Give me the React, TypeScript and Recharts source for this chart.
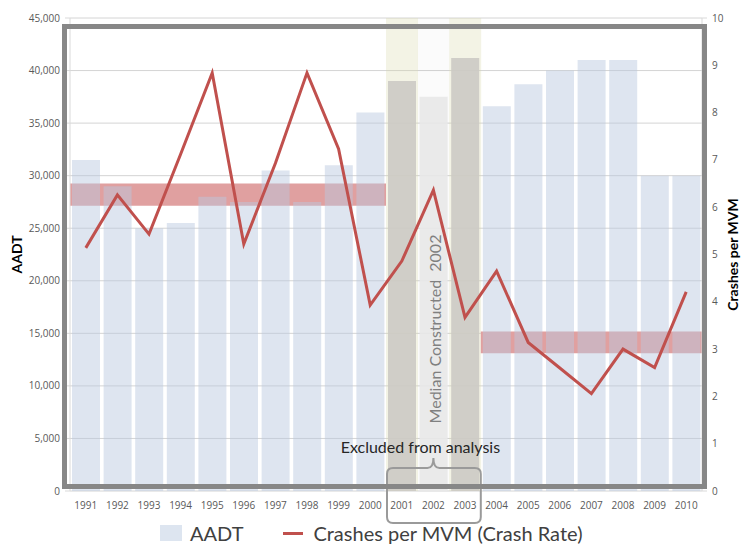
import React from 'react'
import {
  ComposedChart, Bar, Line, XAxis, YAxis, CartesianGrid, ReferenceArea, Cell,
} from 'recharts'

const years = ['1991', '1992', '1993', '1994', '1995', '1996', '1997', '1998', '1999', '2000',
  '2001', '2002', '2003', '2004', '2005', '2006', '2007', '2008', '2009', '2010']
const aadt = [31500, 29000, 25000, 25500, 28000, 27500, 30500, 27500, 31000, 36000,
  39000, 37500, 41200, 36600, 38700, 40000, 41000, 41000, 30000, 30000]
const crashRate = [5.14, 6.26, 5.43, 7.12, 8.84, 5.22, 6.93, 8.84, 7.23, 3.93,
  4.86, 6.36, 3.67, 4.65, 3.14, 2.6, 2.06, 3.0, 2.61, 4.21]

const excludedYears = ['2001', '2002', '2003']
const medianYear = '2002'
const beforeYears = ['1991', '2000']
const afterYears = ['2004', '2010']
const beforeAvg = [6.03, 6.5]
const afterAvg = [2.91, 3.37]

const leftTicks = [0, 5000, 10000, 15000, 20000, 25000, 30000, 35000, 40000, 45000]
const rightTicks = [0, 1, 2, 3, 4, 5, 6, 7, 8, 9, 10]

const seriesNames = ['AADT', 'Crashes per MVM (Crash Rate)']

const data = years.map((year, i) => ({ year, aadt: aadt[i], rate: crashRate[i] }))

const RED = '#c0504d'
const FONT = 'Lato, "Open Sans", sans-serif'
const tickStyle = { fill: '#595959', fontSize: 10, fontFamily: '"Open Sans", sans-serif' }

function colBackground(props: any) {
  const { x, y, width, height, index } = props
  const yr = years[index]
  if (!excludedYears.includes(yr)) return <g key={`bg-${index}`} />
  const fill = yr === medianYear ? 'rgba(0,0,0,0.015)' : 'rgba(214,214,170,0.3)'
  return <rect key={`bg-${index}`} x={x - 2} y={y} width={width + 4} height={height} fill={fill} />
}

function ExcludedNote(props: any) {
  const { x, y, width, height } = props.viewBox
  const cx = x + width / 2
  const bottom = y + height
  const x0 = x + 1
  const x1 = x + width
  const y0 = bottom - 23
  const yb = bottom + 32
  const r = 6
  const d = `M${x0},${y0 + r} Q${x0},${y0} ${x0 + r},${y0} L${cx - 6},${y0} Q${cx},${y0} ${cx},${y0 - 10} `
    + `Q${cx},${y0} ${cx + 6},${y0} L${x1 - r},${y0} Q${x1},${y0} ${x1},${y0 + r} L${x1},${yb - r} `
    + `Q${x1},${yb} ${x1 - r},${yb} L${x0 + r},${yb} Q${x0},${yb} ${x0},${yb - r} Z`
  return (
    <g>
      <text
        transform={`translate(${cx + 8}, ${bottom - 162}) rotate(-90)`}
        textAnchor="middle"
        fontSize={16}
        fill="#808080"
        fontFamily={FONT}
        style={{ whiteSpace: 'pre' }}
      >
        Median Constructed  2002
      </text>
      <text x={cx - 13} y={bottom - 38} textAnchor="middle" fontSize={16} fill="#262626" fontFamily={FONT}>
        Excluded from analysis
      </text>
      <path d={d} fill="none" stroke="#9a9a9a" strokeWidth={2} />
    </g>
  )
}

function LeftTitle(props: any) {
  const { x, y, height } = props.viewBox
  return (
    <text transform={`translate(${x + 12}, ${y + height / 2}) rotate(-90)`} textAnchor="middle"
      fontSize={14} fontWeight="bold" fill="#000" fontFamily={FONT}>
      AADT
    </text>
  )
}

function RightTitle(props: any) {
  const { x, y, height } = props.viewBox
  return (
    <text transform={`translate(${x + 36}, ${y + height / 2}) rotate(-90)`} textAnchor="middle"
      fontSize={14} fontWeight="bold" fill="#000" fontFamily={FONT}>
      Crashes per MVM
    </text>
  )
}

export default function App() {
  return (
    <div style={{ position: 'absolute', left: 0, top: 0, width: 741, height: 546, background: '#fff' }}>
      <ComposedChart
        width={741}
        height={546}
        data={data}
        margin={{ top: 18, right: 9, left: 10, bottom: 30 }}
        barCategoryGap={2}
        style={{ fontFamily: FONT }}
      >
        <CartesianGrid yAxisId="left" vertical={false} stroke="#d4d4d4" />
        <XAxis
          dataKey="year"
          interval={0}
          height={25}
          tick={tickStyle}
          tickLine={false}
          axisLine={false}
          tickMargin={5}
        />
        <YAxis
          yAxisId="left"
          width={60}
          domain={[0, 45000]}
          ticks={leftTicks}
          tickFormatter={(v: number) => v.toLocaleString('en-US')}
          tick={tickStyle}
          tickLine={{ stroke: '#d9d9d9' }}
          axisLine={{ stroke: '#d9d9d9' }}
          tickSize={5}
          tickMargin={5}
          label={LeftTitle}
        />
        <YAxis
          yAxisId="right"
          orientation="right"
          width={30}
          domain={[0, 10]}
          ticks={rightTicks}
          tick={tickStyle}
          tickLine={{ stroke: '#d9d9d9' }}
          axisLine={{ stroke: '#d9d9d9' }}
          tickSize={5}
          tickMargin={5}
          label={RightTitle}
        />
        <ReferenceArea yAxisId="right" x1={beforeYears[0]} x2={beforeYears[1]} y1={beforeAvg[0]} y2={beforeAvg[1]}
          fill="#e0a0a0" fillOpacity={1} stroke="none" />
        <ReferenceArea yAxisId="right" x1={afterYears[0]} x2={afterYears[1]} y1={afterAvg[0]} y2={afterAvg[1]}
          fill="#e0a0a0" fillOpacity={1} stroke="none" />
        <Bar
          yAxisId="left"
          dataKey="aadt"
          name={seriesNames[0]}
          fill="#b9c8df"
          fillOpacity={0.47}
          background={colBackground}
          isAnimationActive={false}
        >
          {data.map((d) => (
            <Cell
              key={d.year}
              fill={!excludedYears.includes(d.year) ? '#b9c8df' : d.year === medianYear ? '#e8e8e8' : '#cccac4'}
              fillOpacity={excludedYears.includes(d.year) ? 0.9 : 0.47}
            />
          ))}
        </Bar>
        <Line
          yAxisId="right"
          type="linear"
          dataKey="rate"
          name={seriesNames[1]}
          stroke={RED}
          strokeWidth={3}
          dot={false}
          activeDot={false}
          isAnimationActive={false}
        />
        <ReferenceArea
          yAxisId="left"
          x1={excludedYears[0]}
          x2={excludedYears[2]}
          y1={0}
          y2={45000}
          fill="none"
          stroke="none"
          zIndex={450}
          label={ExcludedNote}
        />
      </ComposedChart>
      <div style={{
        position: 'absolute', left: 62, top: 24, width: 645, height: 465,
        border: '5px solid #878787', boxSizing: 'border-box', pointerEvents: 'none',
      }} />
      <div style={{
        position: 'absolute', left: 160, top: 522, display: 'flex', alignItems: 'center',
        fontFamily: FONT, fontSize: 20, color: '#404040', whiteSpace: 'nowrap', lineHeight: '22px',
      }}>
        <span style={{ display: 'inline-block', width: 22, height: 16, background: '#dde5f0', marginRight: 8 }} />
        <span>{seriesNames[0]}</span>
        <span style={{ display: 'inline-block', width: 20, height: 3, background: RED, marginLeft: 40, marginRight: 10 }} />
        <span>{seriesNames[1]}</span>
      </div>
    </div>
  )
}
